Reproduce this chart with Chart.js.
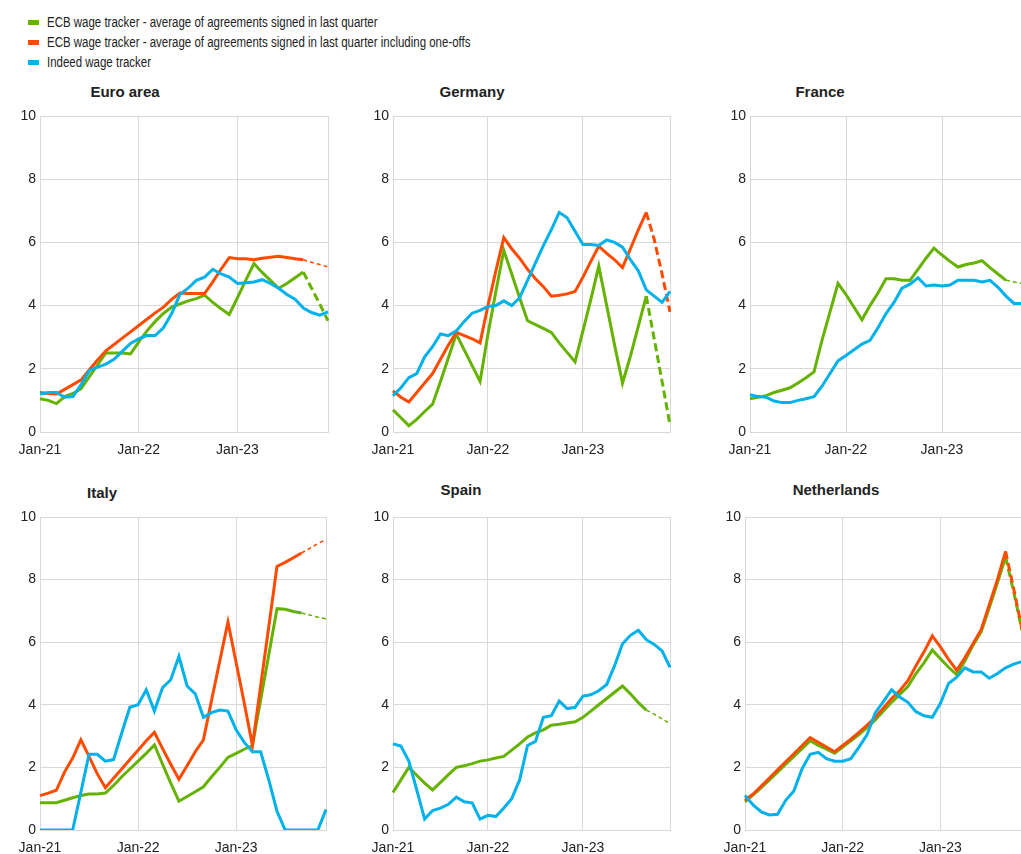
<!DOCTYPE html>
<html>
<head>
<meta charset="utf-8">
<script src="https://cdn.jsdelivr.net/npm/chart.js@4.4.1/dist/chart.umd.min.js"></script>
<style>
html, body { margin: 0; padding: 0; width: 1021px; height: 854px; overflow: hidden; background: #fff; }
body { position: relative; font-family: "Liberation Sans", Arial, sans-serif; color: #222; }
.legend { position: absolute; left: 28px; top: 12px; font-family: "Liberation Sans", Arial, sans-serif; font-size: 14px; }
.legend div { position: relative; height: 20px; line-height: 20px; padding-left: 19px; white-space: nowrap; }
.legend span { position: absolute; left: 0; top: 8px; width: 11px; height: 5px; }
.legend b { font-weight: normal; display: inline-block; transform: scaleX(0.82); transform-origin: 0 50%; }
.title { position: absolute; font-weight: bold; font-size: 15px; transform: translate(-50%, -50%); white-space: nowrap; }
canvas { position: absolute; }
</style>
</head>
<body>
<div class="legend">
  <div><span style="background:#66b200"></span><b>ECB wage tracker - average of agreements signed in last quarter</b></div>
  <div><span style="background:#ff4b00"></span><b>ECB wage tracker - average of agreements signed in last quarter including one-offs</b></div>
  <div><span style="background:#00b1ea"></span><b>Indeed wage tracker</b></div>
</div>
<script>
// monthly, Jan-21 .. Dec-23
const months = [];
['21', '22', '23'].forEach(y => {
  ['Jan','Feb','Mar','Apr','May','Jun','Jul','Aug','Sep','Oct','Nov','Dec'].forEach(m => months.push(m + '-' + y));
});
const yTicks = [0, 2, 4, 6, 8, 10];

// Euro area
const euroEcb = [1.05, 1.0, 0.9, 1.12, 1.22, 1.37, 1.75, 2.12, 2.5, 2.5, 2.5, 2.47, 2.85, 3.2, 3.5, 3.75, 3.95, 4.05, 4.15, 4.22, 4.33, 4.1, 3.9, 3.72, 4.25, 4.8, 5.33, 5.05, 4.8, 4.55, 4.7, 4.88, 5.06, 4.55, 4.05, 3.52];
const euroOneoffs = [1.25, 1.22, 1.2, 1.35, 1.5, 1.65, 1.97, 2.28, 2.57, 2.77, 2.97, 3.17, 3.37, 3.57, 3.77, 3.95, 4.2, 4.4, 4.38, 4.38, 4.38, 4.75, 5.15, 5.52, 5.48, 5.48, 5.45, 5.5, 5.53, 5.56, 5.52, 5.48, 5.45, 5.37, 5.3, 5.22];
const euroIndeed = [1.2, 1.25, 1.25, 1.1, 1.12, 1.5, 1.95, 2.05, 2.15, 2.3, 2.55, 2.8, 2.95, 3.05, 3.05, 3.3, 3.75, 4.35, 4.55, 4.8, 4.9, 5.15, 5.0, 4.9, 4.7, 4.72, 4.75, 4.82, 4.7, 4.55, 4.35, 4.2, 3.92, 3.78, 3.7, 3.8];

// Germany
const deEcb = [0.7, 0.45, 0.2, 0.4, 0.65, 0.88, 1.6, 2.35, 3.1, 2.6, 2.1, 1.6, 3.1, 4.45, 5.75, 5.0, 4.25, 3.52, 3.4, 3.28, 3.15, 2.82, 2.52, 2.22, 3.2, 4.2, 5.25, 4.0, 2.75, 1.55, 2.4, 3.35, 4.3, 2.95, 1.6, 0.22];
const deOneoffs = [1.3, 1.1, 0.95, 1.25, 1.55, 1.85, 2.3, 2.75, 3.15, 3.05, 2.95, 2.82, 4.0, 5.1, 6.15, 5.8, 5.5, 5.15, 4.85, 4.6, 4.3, 4.33, 4.37, 4.45, 4.9, 5.4, 5.88, 5.65, 5.45, 5.2, 5.8, 6.4, 6.95, 6.1, 5.0, 3.8];
const deIndeed = [1.15, 1.4, 1.72, 1.85, 2.38, 2.7, 3.1, 3.05, 3.2, 3.5, 3.76, 3.85, 3.97, 4.0, 4.15, 4.0, 4.25, 4.8, 5.35, 5.9, 6.4, 6.95, 6.78, 6.35, 5.93, 5.93, 5.9, 6.08, 6.0, 5.85, 5.45, 5.1, 4.5, 4.3, 4.1, 4.45];

// France
const frEcb = [1.05, 1.1, 1.15, 1.25, 1.32, 1.4, 1.55, 1.72, 1.9, 2.9, 3.8, 4.7, 4.35, 3.95, 3.55, 4.0, 4.4, 4.85, 4.85, 4.8, 4.8, 5.15, 5.5, 5.82, 5.6, 5.4, 5.22, 5.3, 5.35, 5.42, 5.2, 5.0, 4.8, 4.75, 4.7, 4.65];
const frIndeed = [1.18, 1.12, 1.1, 0.98, 0.93, 0.93, 1.0, 1.05, 1.12, 1.45, 1.85, 2.25, 2.42, 2.6, 2.78, 2.9, 3.3, 3.75, 4.1, 4.55, 4.68, 4.88, 4.62, 4.65, 4.62, 4.65, 4.8, 4.8, 4.8, 4.75, 4.8, 4.58, 4.3, 4.07, 4.07, 4.1];

// Italy
const itEcb = [0.87, 0.87, 0.87, 0.95, 1.03, 1.1, 1.15, 1.15, 1.18, 1.42, 1.7, 1.95, 2.2, 2.45, 2.72, 2.1, 1.5, 0.92, 1.07, 1.22, 1.38, 1.7, 2.0, 2.32, 2.45, 2.58, 2.7, 4.15, 5.6, 7.07, 7.05, 6.98, 6.93, 6.87, 6.8, 6.75];
const itOneoffs = [1.1, 1.18, 1.27, 1.85, 2.3, 2.88, 2.35, 1.8, 1.35, 1.65, 1.95, 2.25, 2.55, 2.85, 3.12, 2.6, 2.1, 1.62, 2.05, 2.5, 2.88, 4.15, 5.4, 6.65, 5.35, 4.05, 2.7, 4.6, 6.5, 8.42, 8.55, 8.7, 8.85, 9.0, 9.15, 9.28];
const itIndeed = [0, 0, 0, 0, 0, 1.2, 2.42, 2.42, 2.2, 2.25, 3.1, 3.92, 4.0, 4.48, 3.8, 4.55, 4.8, 5.55, 4.6, 4.35, 3.6, 3.75, 3.83, 3.8, 3.2, 2.8, 2.5, 2.5, 1.6, 0.6, 0, 0, 0, 0, 0, 0.65];

// Spain
const esEcb = [1.2, 1.6, 2.0, 1.75, 1.5, 1.28, 1.52, 1.77, 2.0, 2.05, 2.12, 2.2, 2.24, 2.3, 2.35, 2.55, 2.75, 2.97, 3.1, 3.2, 3.35, 3.38, 3.42, 3.46, 3.6, 3.8, 4.0, 4.2, 4.4, 4.6, 4.35, 4.07, 3.83, 3.7, 3.55, 3.4];
const esIndeed = [2.75, 2.68, 2.2, 1.28, 0.35, 0.62, 0.7, 0.82, 1.05, 0.9, 0.87, 0.35, 0.47, 0.43, 0.7, 1.0, 1.6, 2.7, 2.83, 3.6, 3.65, 4.12, 3.88, 3.92, 4.28, 4.32, 4.45, 4.65, 5.25, 5.95, 6.22, 6.38, 6.08, 5.93, 5.72, 5.2];

// Netherlands
const nlEcb = [0.9, 1.12, 1.35, 1.6, 1.85, 2.1, 2.35, 2.6, 2.85, 2.7, 2.58, 2.45, 2.65, 2.85, 3.05, 3.28, 3.52, 3.8, 4.08, 4.33, 4.58, 5.0, 5.35, 5.75, 5.47, 5.2, 4.96, 5.4, 5.9, 6.33, 7.1, 7.9, 8.72, 7.6, 6.4, 5.6];
const nlOneoffs = [0.95, 1.15, 1.4, 1.66, 1.92, 2.18, 2.43, 2.69, 2.95, 2.8, 2.65, 2.5, 2.7, 2.9, 3.12, 3.35, 3.6, 3.9, 4.2, 4.45, 4.77, 5.25, 5.7, 6.2, 5.85, 5.45, 5.1, 5.5, 5.95, 6.4, 7.2, 8.0, 8.9, 7.7, 6.45, 5.7];
const nlIndeed = [1.1, 0.8, 0.58, 0.48, 0.5, 0.95, 1.25, 1.95, 2.42, 2.48, 2.28, 2.2, 2.2, 2.28, 2.65, 3.05, 3.75, 4.1, 4.48, 4.25, 4.08, 3.78, 3.65, 3.6, 4.05, 4.68, 4.88, 5.18, 5.05, 5.05, 4.85, 5.0, 5.18, 5.3, 5.38, 5.42];

const GREEN = '#66b200', ORANGE = '#ff4b00', BLUE = '#00b1ea', GRID = '#d9d9d9';
const dashFrom = 32; // last months are provisional -> dashed

const panels = [
  { title: 'Euro area', tx: 125, ty: 91, left: 0, top: 100, w: 340, h: 362, yw: 40, pr: 12, ecb: euroEcb, one: euroOneoffs, ind: euroIndeed, thin: ['one'] },
  { title: 'Germany', tx: 472, ty: 91, left: 340, top: 100, w: 340, h: 362, yw: 53, pr: 3, ecb: deEcb, one: deOneoffs, ind: deIndeed, thin: [] },
  { title: 'France', tx: 820, ty: 91, left: 680, top: 100, w: 360, h: 362, yw: 70, pr: 10, ecb: frEcb, one: null, ind: frIndeed, thin: ['ecb'] },
  { title: 'Italy', tx: 102, ty: 492, left: 0, top: 501, w: 340, h: 359, yw: 40, pr: 14, ecb: itEcb, one: itOneoffs, ind: itIndeed, thin: ['ecb', 'one'] },
  { title: 'Spain', tx: 461, ty: 489, left: 340, top: 501, w: 340, h: 359, yw: 53, pr: 5, ecb: esEcb, one: null, ind: esIndeed, thin: ['ecb'] },
  { title: 'Netherlands', tx: 836, ty: 489, left: 680, top: 501, w: 360, h: 359, yw: 65, pr: 7, ecb: nlEcb, one: nlOneoffs, ind: nlIndeed, thin: [] }
];

function series(data, color, order, thin, dashed) {
  return {
    data: data,
    borderColor: color,
    borderWidth: 3,
    pointRadius: 0,
    tension: 0,
    order: order,
    segment: {
      borderDash: c => (dashed && c.p0DataIndex >= dashFrom) ? (thin ? [4, 3] : [8, 4]) : undefined,
      borderWidth: c => (dashed && thin && c.p0DataIndex >= dashFrom) ? 1.5 : undefined
    }
  };
}

panels.forEach(p => {
  const t = document.createElement('div');
  t.className = 'title';
  t.textContent = p.title;
  t.style.left = p.tx + 'px';
  t.style.top = p.ty + 'px';
  document.body.appendChild(t);

  const cv = document.createElement('canvas');
  cv.width = p.w; cv.height = p.h;
  cv.style.left = p.left + 'px';
  cv.style.top = p.top + 'px';
  cv.style.width = p.w + 'px';
  cv.style.height = p.h + 'px';
  document.body.appendChild(cv);

  const ds = [series(p.ind, BLUE, 0, false, false)];
  if (p.one) ds.push(series(p.one, ORANGE, 1, p.thin.includes('one'), true));
  ds.push(series(p.ecb, GREEN, 2, p.thin.includes('ecb'), true));

  new Chart(cv, {
    type: 'line',
    data: { labels: months, datasets: ds },
    options: {
      responsive: false,
      animation: false,
      layout: { padding: { left: 0, right: p.pr, top: 16, bottom: 0 } },
      plugins: { legend: { display: false }, tooltip: { enabled: false } },
      scales: {
        x: {
          grid: {
            color: c => (c.index % 12 === 0 || c.index === months.length - 1) ? GRID : 'rgba(0,0,0,0)',
            drawTicks: false
          },
          border: { color: GRID },
          ticks: {
            autoSkip: false, maxRotation: 0, minRotation: 0, padding: 10,
            color: '#222', font: { family: 'Liberation Sans', size: 14 },
            callback: function (v) {
              const l = this.getLabelForValue(v);
              return l.startsWith('Jan') ? l : '';
            }
          },
          afterFit: s => { s.height = 30; }
        },
        y: {
          min: yTicks[0],
          max: yTicks[yTicks.length - 1],
          afterBuildTicks: s => { s.ticks = yTicks.map(v => ({ value: v })); },
          grid: { color: GRID, drawTicks: false },
          border: { color: GRID },
          ticks: { padding: 4, color: '#222', font: { family: 'Liberation Sans', size: 14 } },
          afterFit: s => { s.width = p.yw; }
        }
      }
    }
  });
});
</script>
</body>
</html>
